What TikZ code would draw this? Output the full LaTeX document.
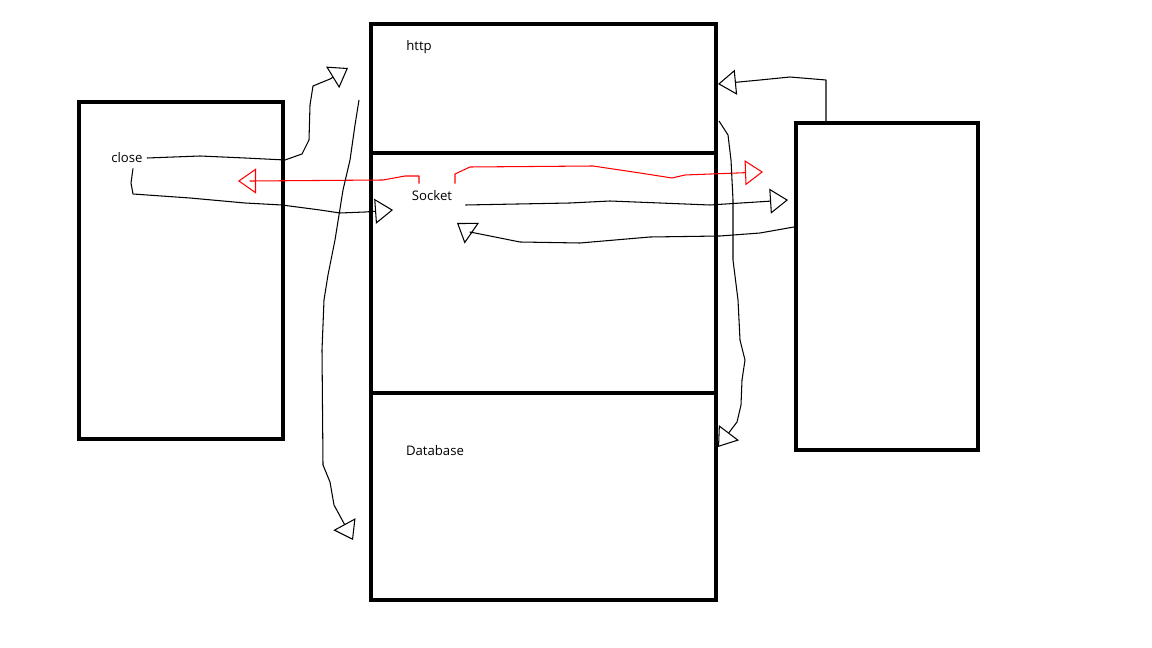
\documentclass[tikz,border=0pt]{standalone}
\usepackage{fontspec}
\setmainfont{Open Sans}
\usetikzlibrary{arrows.meta}

\begin{document}
\begin{tikzpicture}[x=0.02cm, y=-0.02cm,
    box/.style={draw, line width=2.4pt, inner sep=0pt},
    wire/.style={line width=0.6pt, line join=round, -{Triangle[open, length=0.36cm, width=0.5cm]}},
    hot/.style={wire, red},
    lbl/.style={font=\fontsize{7.5}{9}\selectfont, inner sep=0pt}]
\useasboundingbox (0,0) rectangle (1152,648);
% Boxes
\node[box, minimum width=4.08cm, minimum height=6.74cm] (leftbox) at (181,270.5) {};
\node[box, minimum width=6.9cm, minimum height=2.58cm] (httpbox) at (543.5,88.5) {};
\node[box, minimum width=6.9cm, minimum height=4.8cm] (sockbox) at (543.5,273) {};
\node[box, minimum width=6.9cm, minimum height=4.14cm] (dbbox) at (543.5,496.5) {};
\node[box, minimum width=3.64cm, minimum height=6.54cm] (rightbox) at (887,286.5) {};
% Labels
\node[lbl] (closelbl) at (127,158) {close};
\node[lbl] (httplbl) at (419,47) {http};
\node[lbl] (socketlbl) at (432,196) {Socket};
\node[lbl] (dblbl) at (435,451) {Database};
% Arrow ends
\coordinate (tohttp) at (348,68);
\coordinate (tosock) at (393,210);
\coordinate (toclose) at (238,181);
\coordinate (toright) at (763,172);
\coordinate (torightbox) at (788,200);
\coordinate (tosocket) at (457,223);
\coordinate (tohttpr) at (718,84);
\coordinate (todbl) at (353,540);
\coordinate (todbr) at (718,447);
% Left-hand Arrows
\draw[wire] (closelbl.east) ++(4,0) -- (200,156) -- (245,158) -- (285,160) -- (302,154) -- (309,140) -- (310,105) -- (313,86) -- (330,79) -- (tohttp);
\draw[wire] (closelbl.south) ++(6,5) -- (131,183) -- (133,194) -- (190,198) -- (245,203) -- (282,205) -- (320,210) -- (340,213) -- (365,212) -- (tosock);
\draw[hot] (socketlbl.north) ++(-13,-7) -- (419,176) -- (405,176) -- (383,180) -- (250,181) -- (toclose);
\draw[wire] (359,100) -- (355,125) -- (350,160) -- (343,190) -- (335,240) -- (328,275) -- (324,300) -- (322,350) -- (323,465) -- (330,482) -- (334,505) -- (todbl);
% Right-hand Arrows
\draw[hot] (socketlbl.north) ++(23,-7) -- (455,174) -- (470,167) -- (593,166) -- (640,173) -- (672,178) -- (685,175) -- (toright);
\draw[wire] (socketlbl.east) ++(13,9) -- (570,203) -- (610,201) -- (710,205) -- (torightbox);
\draw[wire] (rightbox.west |- 0,227) -- (760,233) -- (720,236) -- (650,237) -- (580,243) -- (520,242) -- (470,232) -- (tosocket);
\draw[wire] (rightbox.north -| 826,0) -- (826,80) -- (790,77) -- (760,80) -- (tohttpr);
\draw[wire] (719,121) -- (728,135) -- (731,160) -- (733,200) -- (733,260) -- (738,300) -- (740,340) -- (745,360) -- (742,380) -- (741,405) -- (737,422) -- (todbr);
\end{tikzpicture}
\end{document}
